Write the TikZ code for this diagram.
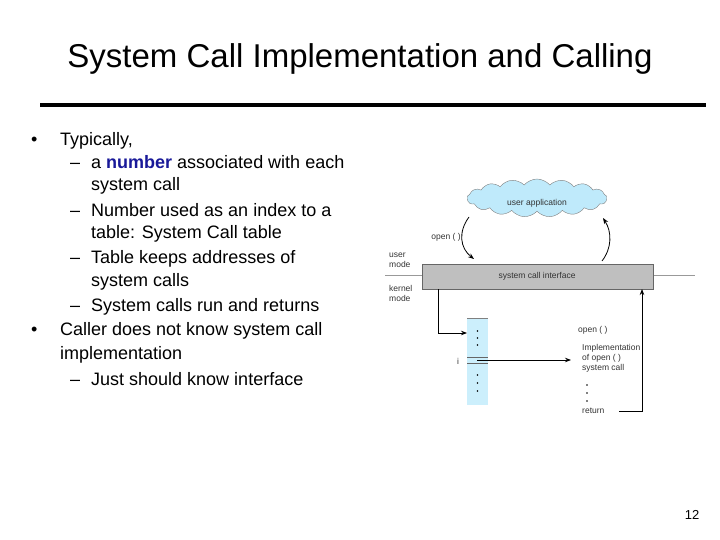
\documentclass[tikz,border=0pt]{standalone}
\usepackage{fontspec}
\setmainfont{Liberation Sans}
\usetikzlibrary{shapes.symbols,arrows.meta}
\begin{document}
\begin{tikzpicture}[x=1pt,y=-1pt,
  body/.style={anchor=base west,font=\fontsize{18}{20}\selectfont,inner sep=0},
  small/.style={font=\fontsize{8.5}{10}\selectfont,inner sep=0,text=black!80},
  arr/.style={-{Stealth[length=6pt]},thick}]
\useasboundingbox (0,0) rectangle (720,540);
\node (title) at (360,59) {\fontsize{33}{36}\selectfont System Call Implementation and Calling};
\draw[line width=4pt] (40,105) -- (706,105);
\node[body] (b1) at (31,146) {\textbullet};
\node[body] (t1) at (60,146) {Typically,};
\node[body] (d2) at (70,169) {\textendash};
\node[body] (t2) at (91,169) {a \textcolor[rgb]{0.1,0.1,0.6}{\textbf{number}} associated with each};
\node[body] (t3) at (91,191) {system call};
\node[body] (d4) at (70,216) {\textendash};
\node[body] (t4) at (91,216) {Number used as an index to a};
\node[body] (t5) at (91,238) {table: System Call table};
\node[body] (d6) at (70,263) {\textendash};
\node[body] (t6) at (91,263) {Table keeps addresses of};
\node[body] (t7) at (91,286) {system calls};
\node[body] (d8) at (70,311) {\textendash};
\node[body] (t8) at (91,311) {System calls run and returns};
\node[body] (b2) at (31,335) {\textbullet};
\node[body] (t9) at (60,335) {Caller does not know system call};
\node[body] (t10) at (60,359) {implementation};
\node[body] (d11) at (70,385) {\textendash};
\node[body] (t11) at (91,385) {Just should know interface};
\node (pg) at (692,515) {\fontsize{13}{14}\selectfont 12};
% diagram
\node[cloud,cloud puffs=17,cloud puff arc=100,aspect=3.8,draw=black!50,fill=cyan!25,minimum width=140,minimum height=38,inner sep=0] (cloud) at (537,198) {};
\node[small] (ua) at (537,203) {user application};
\draw[black!40] (385,275) coordinate (l1) -- (695,275) coordinate (l2);
\node[draw=black!60,fill=black!25,minimum width=231,minimum height=25,inner sep=0] (bar) at (537.5,276.5) {};
\node[small] (sci) at (537,276) {system call interface};
\node[small,align=left,anchor=west] (um) at (389,260) {user\\mode};
\node[small,align=left,anchor=west] (km) at (389,293) {kernel\\mode};
\node[fill=cyan!20,minimum width=21,minimum height=87,inner sep=0,anchor=north west] (tab) at (467,318) {};
\draw[black!50] (tab.north west) -- (tab.north east);
\draw[black!60] (467,357) coordinate (e1) -- (488,357);
\draw[black!60] (467,363) coordinate (e2) -- (488,363);
\foreach \y in {331,338,345,375,383,391}{\fill (477.5,\y) circle (0.9);}
\node[small] (i) at (458,361) {i};
\coordinate (iy) at (477,360);
\coordinate (s1) at (438,289);
\coordinate (s2) at (438,333);
\draw[arr] (s1) -- (s2) -- (467,333) coordinate (tt);
\node[small,anchor=west] (op) at (578,330) {open ( )};
\node[small,anchor=west,align=left] (impl) at (582,358) {Implementation\\of open ( )\\system call};
\draw[arr] (iy) -- (571,360) coordinate (ie);
\foreach \y in {385,393,401}{\fill (587,\y) circle (0.9);}
\node[small,anchor=west] (ret) at (582,411) {return};
\coordinate (r1) at (619,411);
\coordinate (r2) at (642,411);
\draw[arr] (r1) -- (r2) -- (642,289) coordinate (r3);
\coordinate (c1) at (469,217);
\coordinate (c2) at (474,259);
\draw[arr] (c1) .. controls (458,232) and (460,248) .. (c2);
\coordinate (c3) at (602,261);
\coordinate (c4) at (603,218);
\draw[arr] (c3) .. controls (612,248) and (612,232) .. (c4);
\node[small] (opl) at (446,237) {open ( )};
\end{tikzpicture}
\end{document}
